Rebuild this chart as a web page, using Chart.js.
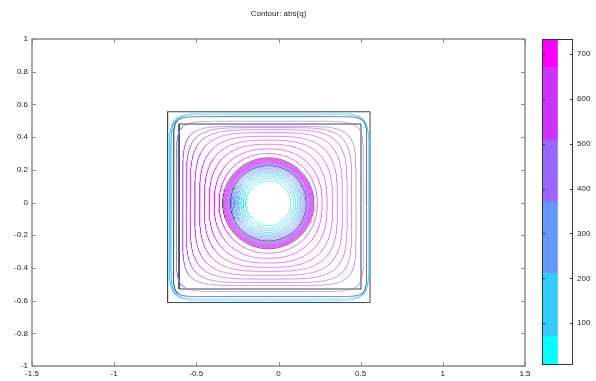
<!DOCTYPE html>
<html><head><meta charset="utf-8">
<script src="https://cdn.jsdelivr.net/npm/chart.js@4/dist/chart.umd.min.js"></script>
<style>
html,body{margin:0;padding:0;background:#fff;}
#wrap{position:relative;width:596px;height:381px;overflow:hidden;}
canvas{position:absolute;left:0;top:0;}
</style></head><body>
<div id="wrap"><canvas id="main" width="596" height="381"></canvas><canvas id="cbar" width="596" height="381"></canvas></div>
<script>
// ---------- data ----------
const chartTitle = 'Contour: abs(q)';
const xTicks = [-1.5, -1, -0.5, 0, 0.5, 1, 1.5];
const yTicks = [-1, -0.8, -0.6, -0.4, -0.2, 0, 0.2, 0.4, 0.6, 0.8, 1];
const cbTicks = [100, 200, 300, 400, 500, 600, 700];
const cbEdges = [7, 70, 211, 370, 508, 670, 733];
const cbColors = ['#00FFFF', '#33CCFF', '#6699FF', '#9966FF', '#CC33FF', '#FF00FF'];

// geometry boundaries [left, right, bottom, top]
const outerSquare = [-0.675, 0.557, -0.612, 0.555];
const innerSquare = [-0.605, 0.502, -0.529, 0.480];
const circleCenter = [-0.062, -0.005];
const boundaryRadii = [0.230, 0.278];

// contours inside the hole (radius, level)
const holeRadii  = [0.222, 0.214, 0.206, 0.198, 0.189, 0.179, 0.167, 0.153, 0.137];
const holeLevels = [360, 320, 285, 250, 215, 180, 140, 95, 45];

// contours in the ring between the two circles
const bandRadii  = [0.235, 0.241, 0.247, 0.253, 0.259, 0.265, 0.271];
const bandLevels = [430, 470, 520, 560, 600, 640, 690];

// contours between circle and inner square
const fieldLeft   = [-0.362, -0.392, -0.422, -0.452, -0.481, -0.510, -0.538, -0.562, -0.584];
const fieldRight  = [0.236, 0.266, 0.296, 0.329, 0.359, 0.389, 0.418, 0.446, 0.472];
const fieldBottom = [-0.310, -0.341, -0.370, -0.396, -0.421, -0.445, -0.468, -0.490, -0.508];
const fieldTop    = [0.300, 0.328, 0.356, 0.381, 0.405, 0.427, 0.445, 0.458, 0.466];
const fieldExp    = [2.1, 2.3, 2.6, 2.9, 3.3, 3.8, 4.4, 5.2, 6.5];
const fieldLevels = [700, 680, 655, 630, 605, 580, 550, 515, 480];

// contours between the squares
const edgeLeft   = [-0.622, -0.640, -0.655, -0.666];
const edgeRight  = [0.517, 0.537, 0.548, 0.553];
const edgeBottom = [-0.545, -0.576, -0.592, -0.603];
const edgeTop    = [0.497, 0.525, 0.538, 0.548];
const edgeExp    = [10, 16, 12, 10];
const edgeLevels = [380, 290, 200, 110];

// ---------- helpers ----------
const lvMin = cbEdges[0], lvMax = cbEdges[cbEdges.length - 1];
function levelColor(v, alpha) {
  const c = Math.max(0, Math.min(1, (v - lvMin) / (lvMax - lvMin)));
  return 'rgba(' + Math.round(255 * c) + ',' + Math.round(255 * (1 - c)) + ',255,' + alpha + ')';
}
function ring(L, R, B, T, n, steps) {
  const cx = (L + R) / 2, cy = (B + T) / 2, a = (R - L) / 2, b = (T - B) / 2;
  const pts = [];
  for (let i = 0; i <= steps; i++) {
    const t = 2 * Math.PI * i / steps;
    const c = Math.cos(t), s = Math.sin(t);
    pts.push({ x: cx + a * Math.sign(c) * Math.pow(Math.abs(c), 2 / n),
               y: cy + b * Math.sign(s) * Math.pow(Math.abs(s), 2 / n) });
  }
  return pts;
}
function circle(r) {
  return ring(circleCenter[0] - r, circleCenter[0] + r, circleCenter[1] - r, circleCenter[1] + r, 2, 120);
}
function rect(b) {
  return [{x:b[0],y:b[2]},{x:b[1],y:b[2]},{x:b[1],y:b[3]},{x:b[0],y:b[3]},{x:b[0],y:b[2]}];
}
function ds(pts, color, w) {
  return { data: pts, showLine: true, borderColor: color, borderWidth: w, pointRadius: 0, fill: false, tension: 0 };
}

const datasets = [];
edgeLeft.forEach((L, i) => datasets.push(ds(ring(L, edgeRight[i], edgeBottom[i], edgeTop[i], edgeExp[i], 720),
  i === 1 ? 'rgba(70,84,180,0.8)' : levelColor(edgeLevels[i], 0.6), 1)));
fieldLeft.forEach((L, i) => datasets.push(ds(ring(L, fieldRight[i], fieldBottom[i], fieldTop[i], fieldExp[i], 360),
  levelColor(fieldLevels[i], 0.6), 1)));
bandRadii.forEach((r, i) => datasets.push(ds(circle(r), levelColor(bandLevels[i], 0.6), 1.5)));
holeRadii.forEach((r, i) => datasets.push(ds(circle(r), levelColor(holeLevels[i], 0.65), 1)));
datasets.push(ds(circle(boundaryRadii[0]), 'rgba(40,40,60,0.8)', 1));
datasets.push(ds(circle(boundaryRadii[1]), 'rgba(80,80,80,0.8)', 1));
datasets.push(ds(rect(outerSquare), '#444444', 1));
datasets.push(ds(rect(innerSquare), '#444444', 1));

const tickFont = { family: 'Liberation Sans, Arial, sans-serif', size: 8 };
const textColor = '#222';

function inwardTicks(chart, xs, ys, color, len) {
  const { ctx, chartArea: a } = chart;
  ctx.save();
  ctx.strokeStyle = color; ctx.lineWidth = 1;
  ctx.beginPath();
  if (xs) xs.forEach(v => {
    const p = Math.round(chart.scales.x.getPixelForValue(v)) + 0.5;
    ctx.moveTo(p, a.bottom); ctx.lineTo(p, a.bottom - len);
    ctx.moveTo(p, a.top); ctx.lineTo(p, a.top + len);
  });
  ys.forEach(v => {
    const p = Math.round(chart.scales.y.getPixelForValue(v)) + 0.5;
    ctx.moveTo(a.left, p); ctx.lineTo(a.left + len, p);
    ctx.moveTo(a.right, p); ctx.lineTo(a.right - len, p);
  });
  ctx.stroke();
  ctx.restore();
}

const mainFrame = {
  id: 'mainFrame',
  afterDraw(chart) {
    const { ctx, chartArea: a } = chart;
    ctx.save();
    ctx.strokeStyle = '#8a8a8a'; ctx.lineWidth = 1.5;
    ctx.strokeRect(a.left, a.top, a.right - a.left, a.bottom - a.top);
    ctx.restore();
    inwardTicks(chart, xTicks, yTicks, '#8a8a8a', 4);
    ctx.save();
    ctx.fillStyle = textColor;
    ctx.font = '8px Liberation Sans, Arial, sans-serif';
    ctx.textAlign = 'center'; ctx.textBaseline = 'middle';
    ctx.fillText(chartTitle, (a.left + a.right) / 2, 14);
    ctx.restore();
  }
};

new Chart(document.getElementById('main'), {
  type: 'scatter',
  data: { datasets },
  options: {
    responsive: false, animation: false, devicePixelRatio: 1,
    layout: { padding: { left: 0, top: 39, right: 71, bottom: 0 } },
    plugins: { legend: { display: false }, tooltip: { enabled: false } },
    scales: {
      x: {
        type: 'linear', min: -1.5, max: 1.5,
        afterBuildTicks: s => { s.ticks = xTicks.map(v => ({ value: v })); },
        afterFit: s => { s.height = 15; },
        grid: { display: false, drawTicks: false, tickLength: 0 }, border: { display: false },
        ticks: { font: tickFont, color: textColor, padding: 3, maxRotation: 0, autoSkip: false,
                 callback: v => String(v) }
      },
      y: {
        type: 'linear', min: -1, max: 1,
        afterBuildTicks: s => { s.ticks = yTicks.map(v => ({ value: v })); },
        afterFit: s => { s.width = 32; },
        grid: { display: false, drawTicks: false, tickLength: 0 }, border: { display: false },
        ticks: { font: tickFont, color: textColor, padding: 4, autoSkip: false,
                 callback: v => String(Math.round(v * 10) / 10) }
      }
    }
  },
  plugins: [mainFrame]
});

const cbFrame = {
  id: 'cbFrame',
  afterDraw(chart) {
    const { ctx, chartArea: a } = chart;
    inwardTicks(chart, null, cbTicks, '#333', 3);
    ctx.save();
    ctx.strokeStyle = '#2a3a3a'; ctx.lineWidth = 1;
    ctx.strokeRect(a.left + 0.5, a.top + 0.5, a.right - a.left - 1, a.bottom - a.top - 1);
    ctx.restore();
  }
};

new Chart(document.getElementById('cbar'), {
  type: 'bar',
  data: {
    labels: ['q'],
    datasets: cbColors.map((c, i) => ({
      data: [[cbEdges[i], cbEdges[i + 1]]], backgroundColor: c, borderWidth: 0,
      barPercentage: 1, categoryPercentage: 1
    }))
  },
  options: {
    responsive: false, animation: false, devicePixelRatio: 1,
    layout: { padding: { left: 542, top: 39, right: 0, bottom: 16 } },
    plugins: { legend: { display: false }, tooltip: { enabled: false } },
    scales: {
      x: { display: false, stacked: true, offset: false },
      y: {
        position: 'right', min: lvMin, max: lvMax, stacked: false,
        afterBuildTicks: s => { s.ticks = cbTicks.map(v => ({ value: v })); },
        afterFit: s => { s.width = 23; },
        grid: { display: false, drawTicks: false, tickLength: 0 }, border: { display: false },
        ticks: { font: tickFont, color: textColor, padding: 4 }
      }
    }
  },
  plugins: [cbFrame]
});
</script>
</body></html>
